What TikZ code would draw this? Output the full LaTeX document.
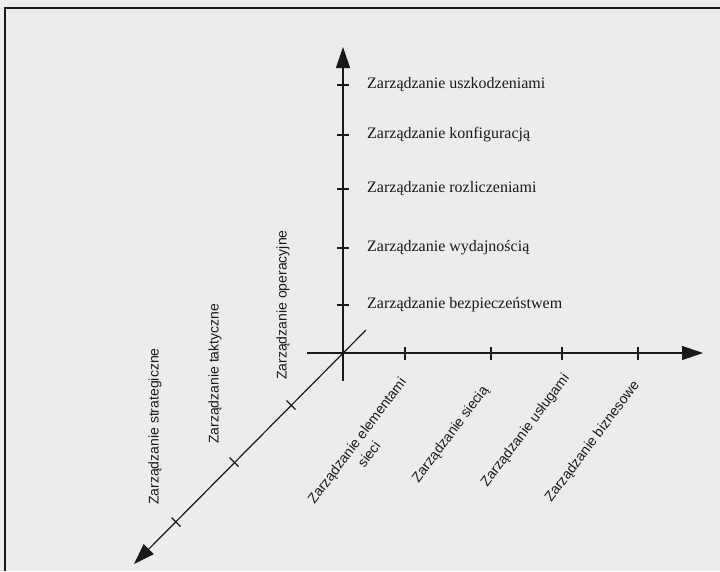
\documentclass[tikz,border=0pt]{standalone}
\usepackage{fontspec}
\setmainfont{Liberation Serif}
\newfontfamily\labsans{Liberation Sans}
\usetikzlibrary{arrows.meta}
\definecolor{paper}{RGB}{236,236,237}
\definecolor{ink}{RGB}{25,25,25}
\begin{document}
\begin{tikzpicture}[x=1pt,y=-1pt,
  axis/.style={draw=ink,line width=1.2pt,-{Triangle[length=21pt,width=14pt]}},
  tickmark/.style={draw=ink,line width=1.1pt},
  levellabel/.style={anchor=west,inner sep=0pt,font=\fontsize{16}{19}\selectfont,text=ink},
  vlabel/.style={anchor=west,rotate=90,inner sep=0pt,font=\labsans\fontsize{14}{17}\selectfont,text=ink},
  slabel/.style={anchor=east,rotate=53,inner sep=0pt,font=\labsans\fontsize{14}{17}\selectfont,text=ink},
  frame/.style={draw=ink,line width=1.5pt}]
  % paper and bounding box
  \fill[paper] (0,0) rectangle (720,571);
  \useasboundingbox (0,0) rectangle (720,571);
  % frame (top and left edges)
  \coordinate (fbl) at (5,571);
  \coordinate (ftl) at (5,8);
  \coordinate (ftr) at (720,8);
  \draw[frame] (fbl) -- (ftl) -- (ftr);

  % axes
  \coordinate (O) at (343,353);
  \coordinate (vStart) at (343,381);
  \coordinate (vEnd) at (343,47);
  \coordinate (hStart) at (307,353);
  \coordinate (hEnd) at (703,353);
  \coordinate (dStart) at (366,330);
  \coordinate (dEnd) at (134,564);
  \draw[axis] (vStart) -- (vEnd);
  \draw[axis] (hStart) -- (hEnd);
  \draw[axis] (dStart) -- (dEnd);

  % vertical axis ticks and labels
  \foreach \n/\yy/\txt in {v1/85/{Zarządzanie uszkodzeniami},
                         v2/135/{Zarządzanie konfiguracją},
                         v3/189/{Zarządzanie rozliczeniami},
                         v4/248/{Zarządzanie wydajnością},
                         v5/305/{Zarządzanie bezpieczeństwem}}{
    \coordinate (\n) at (343,\yy);
    \draw[tickmark] ([xshift=-6pt]\n) -- ([xshift=6pt]\n);
    \node[levellabel] (\n-lab) at (367,\yy) {\txt};
  }

  % horizontal axis ticks
  \foreach \n/\xx in {h1/405,h2/491,h3/562,h4/638}{
    \coordinate (\n) at (\xx,353);
    \draw[tickmark] ([yshift=-6.5pt]\n) -- ([yshift=6.5pt]\n);
  }
  \node[slabel] (h1-lab) at (404,380) {Zarządzanie elementami};
  \node[slabel,anchor=center] (h1-lab2) at ([shift={(11,13)}]h1-lab.center) {sieci};
  \node[slabel] (h2-lab) at (486,388) {Zarządzanie siecią};
  \node[slabel] (h3-lab) at (567,376) {Zarządzanie usługami};
  \node[slabel] (h4-lab) at (637,383) {Zarządzanie biznesowe};

  % diagonal axis ticks
  \foreach \n/\xx/\yy in {d1/291/405,d2/234/462,d3/176/522}{
    \coordinate (\n) at (\xx,\yy);
    \draw[tickmark] ([shift={(-4.5,-4.5)}]\n) -- ([shift={(4.5,4.5)}]\n);
  }
  \node[vlabel] (d1-lab) at (283,380) {Zarządzanie operacyjne};
  \node[vlabel] (d2-lab) at (215,444) {Zarządzanie taktyczne};
  \node[vlabel] (d3-lab) at (155,505) {Zarządzanie strategiczne};
\end{tikzpicture}
\end{document}
